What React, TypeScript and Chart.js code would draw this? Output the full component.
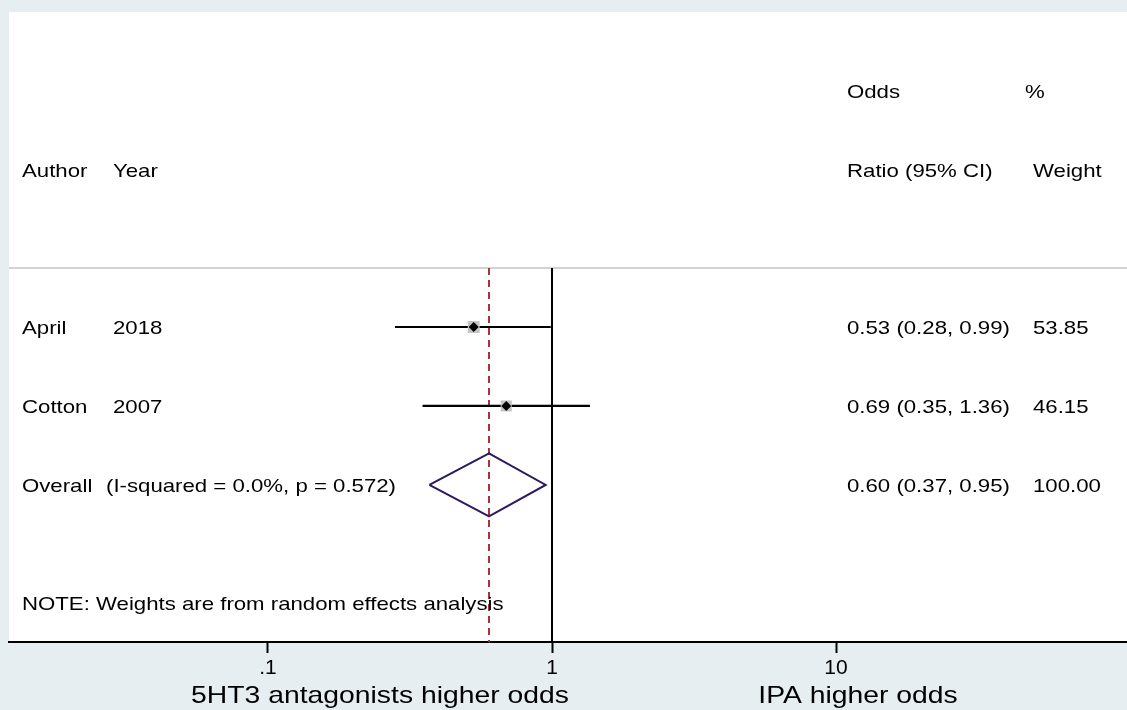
import React, { useEffect, useRef } from "react";
import { Chart, registerables } from "chart.js";

Chart.register(...registerables);

// ---------------- data ----------------
const studyNames = ["April", "Cotton"];
const studyYears = ["2018", "2007"];
const studyRows = [1, 2];
const studyOR = [0.53, 0.69];
const studyLow = [0.28, 0.35];
const studyHigh = [0.99, 1.36];
const studyWeight = [53.85, 46.15];
const studyCILabels = ["0.53 (0.28, 0.99)", "0.69 (0.35, 1.36)"];
const studyWeightLabels = ["53.85", "46.15"];

const overallRow = 3;
const overallOR = 0.6;
const overallLow = 0.37;
const overallHigh = 0.95;
const overallCILabel = "0.60 (0.37, 0.95)";
const overallWeightLabel = "100.00";
const overallName = "Overall";
const heterogeneityLabel = "(I-squared = 0.0%, p = 0.572)";
const noteText = "NOTE: Weights are from random effects analysis";

const xTickValues = [0.1, 1, 10];
const xTickLabels = [".1", "1", "10"];
const leftFavourLabel = "5HT3 antagonists higher odds";
const rightFavourLabel = "IPA higher odds";

// ---------------- layout constants ----------------
const X_MIN = 0.01225;
const X_MAX = 105.8;
const Y_MIN = -2.99;
const Y_MAX = 4.99;
const HEADER_ROW_1 = -1.99;
const HEADER_ROW_2 = -0.99;
const SEPARATOR_ROW = 0.253;
const NOTE_ROW = 4.494;
const FONT = '"Liberation Sans", Arial, Helvetica, sans-serif';
const SX = 1.2;

function drawText(
  ctx: CanvasRenderingContext2D,
  text: string,
  x: number,
  y: number,
  size: number,
  align: CanvasTextAlign = "left",
  sx: number = SX
) {
  ctx.save();
  ctx.font = `${size}px ${FONT}`;
  ctx.fillStyle = "#000";
  ctx.textBaseline = "alphabetic";
  ctx.textAlign = align;
  ctx.translate(x, y);
  ctx.scale(sx, 1);
  ctx.fillText(text, 0, 0);
  ctx.restore();
}

const backgroundPlugin = {
  id: "bgPlugin",
  beforeDraw(chart: any) {
    const { ctx, chartArea } = chart;
    ctx.save();
    ctx.fillStyle = "#e7eef1";
    ctx.fillRect(0, 0, chart.width, chart.height);
    ctx.fillStyle = "#ffffff";
    ctx.fillRect(
      chartArea.left,
      chartArea.top,
      chartArea.right - chartArea.left,
      chartArea.bottom - chartArea.top
    );
    ctx.restore();
  },
};

const textPlugin = {
  id: "textPlugin",
  afterDraw(chart: any) {
    const ctx = chart.ctx as CanvasRenderingContext2D;
    const y = chart.scales.y;
    const base = (row: number) => y.getPixelForValue(row) + 7;
    const colAuthor = 22;
    const colYear = 113;
    const colCI = 847;
    const colW = 1033;
    const sz = 18.5;

    drawText(ctx, "Odds", colCI, base(HEADER_ROW_1), sz);
    drawText(ctx, "%", 1025, base(HEADER_ROW_1), sz);
    drawText(ctx, "Author", colAuthor, base(HEADER_ROW_2), sz);
    drawText(ctx, "Year", colYear, base(HEADER_ROW_2), sz);
    drawText(ctx, "Ratio (95% CI)", colCI, base(HEADER_ROW_2), sz);
    drawText(ctx, "Weight", colW, base(HEADER_ROW_2), sz);

    studyNames.forEach((n, i) => {
      const b = base(studyRows[i]);
      drawText(ctx, n, colAuthor, b, sz);
      drawText(ctx, studyYears[i], colYear, b, sz);
      drawText(ctx, studyCILabels[i], colCI, b, sz);
      drawText(ctx, studyWeightLabels[i], colW, b, sz);
    });

    const ob = base(overallRow);
    drawText(ctx, overallName, colAuthor, ob, sz);
    drawText(ctx, heterogeneityLabel, 106, ob, sz);
    drawText(ctx, overallCILabel, colCI, ob, sz);
    drawText(ctx, overallWeightLabel, colW, ob, sz);

    drawText(ctx, noteText, colAuthor, base(NOTE_ROW), sz);

    drawText(ctx, leftFavourLabel, 380, 703, 24, "center", 1.18);
    drawText(ctx, rightFavourLabel, 858, 703, 24, "center", 1.18);
  },
};

export default function App() {
  const canvasRef = useRef<HTMLCanvasElement | null>(null);

  useEffect(() => {
    if (!canvasRef.current) return;

    const ciDatasets = studyNames.map((n, i) => ({
      label: `${n} CI`,
      data: [
        { x: studyLow[i], y: studyRows[i] },
        { x: studyHigh[i], y: studyRows[i] },
      ],
      showLine: true,
      borderColor: "#000",
      borderWidth: 2.2,
      pointRadius: 0,
      order: 2,
    }));

    const chart = new Chart(canvasRef.current, {
      type: "scatter",
      data: {
        datasets: [
          {
            label: "estimates",
            data: studyOR.map((v, i) => ({ x: v, y: studyRows[i] })),
            pointStyle: "rectRot",
            pointRadius: 5,
            backgroundColor: "#000",
            borderColor: "#000",
            borderWidth: 0,
            order: 0,
          },
          {
            label: "weights",
            data: studyOR.map((v, i) => ({ x: v, y: studyRows[i] })),
            pointStyle: "rect",
            pointRadius: studyWeight.map((w) => 1.15 * Math.sqrt(w)),
            backgroundColor: "#c4c4c4",
            borderWidth: 0,
            order: 1,
          },
          ...ciDatasets,
          {
            label: "overall",
            data: [
              { x: overallLow, y: overallRow },
              { x: overallOR, y: overallRow - 0.4 },
              { x: overallHigh, y: overallRow },
              { x: overallOR, y: overallRow + 0.4 },
              { x: overallLow, y: overallRow },
            ],
            showLine: true,
            borderColor: "rgb(45,25,95)",
            borderWidth: 2,
            pointRadius: 0,
            fill: false,
            order: 3,
          },
          {
            label: "overall line",
            data: [
              { x: overallOR, y: SEPARATOR_ROW },
              { x: overallOR, y: Y_MAX },
            ],
            showLine: true,
            borderColor: "rgb(170,50,60)",
            borderWidth: 2,
            borderDash: [7, 5],
            pointRadius: 0,
            order: 4,
          },
          {
            label: "null line",
            data: [
              { x: 1, y: SEPARATOR_ROW },
              { x: 1, y: Y_MAX },
            ],
            showLine: true,
            borderColor: "#000",
            borderWidth: 2,
            pointRadius: 0,
            order: 5,
          },
          {
            label: "separator",
            data: [
              { x: X_MIN, y: SEPARATOR_ROW },
              { x: X_MAX, y: SEPARATOR_ROW },
            ],
            showLine: true,
            borderColor: "#d3d3d3",
            borderWidth: 2,
            pointRadius: 0,
            order: 6,
          },
        ] as any,
      },
      options: {
        animation: false,
        responsive: false,
        maintainAspectRatio: false,
        events: [],
        layout: {
          autoPadding: false,
          padding: { left: 9, top: 12, right: 0, bottom: 0 },
        },
        plugins: {
          legend: { display: false },
          tooltip: { enabled: false },
          title: { display: false },
        },
        scales: {
          x: {
            type: "logarithmic",
            position: "bottom",
            min: X_MIN,
            max: X_MAX,
            afterBuildTicks: (s: any) => {
              s.ticks = xTickValues.map((v) => ({ value: v }));
            },
            afterFit: (s: any) => {
              s.height = 68;
            },
            ticks: {
              autoSkip: false,
              maxRotation: 0,
              minRotation: 0,
              padding: 3,
              color: "#000",
              font: { family: FONT, size: 21 },
              callback: (_v: any, i: number) => xTickLabels[i],
            },
            grid: {
              drawOnChartArea: false,
              drawTicks: true,
              tickLength: 11,
              tickColor: "#000",
              tickWidth: 2,
            },
            border: { display: true, color: "#000", width: 2 },
          },
          y: {
            type: "linear",
            min: Y_MIN,
            max: Y_MAX,
            reverse: true,
            display: false,
          },
        },
      } as any,
      plugins: [backgroundPlugin, textPlugin],
    });

    return () => chart.destroy();
  }, []);

  return (
    <div
      style={{
        position: "fixed",
        left: 0,
        top: 0,
        width: 1127,
        height: 710,
        overflow: "hidden",
      }}
    >
      <canvas
        ref={canvasRef}
        width={1127}
        height={710}
        style={{ display: "block", width: 1127, height: 710 }}
      />
    </div>
  );
}
